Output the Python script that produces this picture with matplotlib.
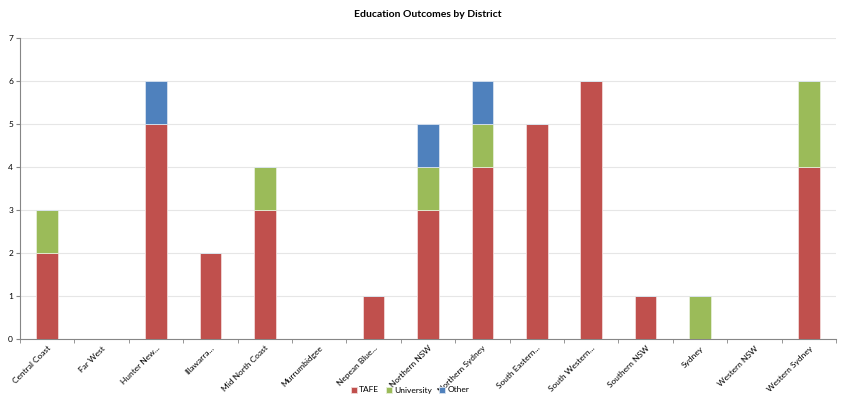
import matplotlib
matplotlib.use("Agg")
import matplotlib.pyplot as plt
import numpy as np

plt.rcParams['font.family'] = ['Lato', 'DejaVu Sans']

districts = ['Central Coast', 'Far West', 'Hunter New...', 'Illawarra...', 'Mid North Coast',
             'Murrumbidgee', 'Nepean Blue...', 'Northern NSW', 'Northern Sydney',
             'South Eastern...', 'South Western...', 'Southern NSW', 'Sydney',
             'Western NSW', 'Western Sydney']
tafe = [2, 0, 5, 2, 3, 0, 1, 3, 4, 5, 6, 1, 0, 0, 4]
university = [1, 0, 0, 0, 1, 0, 0, 1, 1, 0, 0, 0, 1, 0, 2]
other = [0, 0, 1, 0, 0, 0, 0, 1, 1, 0, 0, 0, 0, 0, 0]

colors = {'TAFE': '#C0504D', 'University': '#9BBB59', 'Other': '#4F81BD'}

fig = plt.figure(figsize=(8.45, 4.01), dpi=100)
ax = fig.add_axes([20 / 845, 1 - 339 / 401, 816 / 845, 301 / 401])

x = np.arange(len(districts))
tafe_a = np.array(tafe)
uni_a = np.array(university)
oth_a = np.array(other)
w = 0.4
# light edge to mimic the soft bar borders of the original
ax.bar(x, tafe_a, w, color=colors['TAFE'], label='TAFE', zorder=3,
       edgecolor='#f2d9d8', linewidth=0.6)
ax.bar(x, uni_a, w, bottom=tafe_a, color=colors['University'], label='University', zorder=3,
       edgecolor='#e6eed8', linewidth=0.6)
ax.bar(x, oth_a, w, bottom=tafe_a + uni_a, color=colors['Other'], label='Other', zorder=3,
       edgecolor='#d8e2ef', linewidth=0.6)

ax.set_xlim(-0.5, len(districts) - 0.5)
ax.set_ylim(0, 7)
ax.set_yticks(range(8))
ax.grid(axis='y', color='#e6e6e6', linewidth=0.8, zorder=0)
ax.tick_params(axis='y', labelsize=6, length=3, color='#868686', pad=2)

ax.set_xticks(x)
ax.set_xticklabels(districts, rotation=45, ha='right', rotation_mode='anchor', fontsize=6)
ax.set_xticks(np.arange(-0.5, len(districts)), minor=True)
ax.tick_params(axis='x', which='major', length=0, pad=4)
ax.tick_params(axis='x', which='minor', length=3, color='#868686')

for s in ['top', 'right']:
    ax.spines[s].set_visible(False)
for s in ['left', 'bottom']:
    ax.spines[s].set_color('#868686')
    ax.spines[s].set_linewidth(0.8)

ax.set_title('Education Outcomes by District', fontsize=7.5, fontweight='bold', pad=15)

fig.legend(loc='center', bbox_to_anchor=(410 / 845, 1 - 390 / 401), ncol=3, fontsize=6,
           frameon=False, handlelength=0.7, handleheight=0.7, handletextpad=0.3,
           columnspacing=0.8)

fig.savefig('out.png', dpi=100)
